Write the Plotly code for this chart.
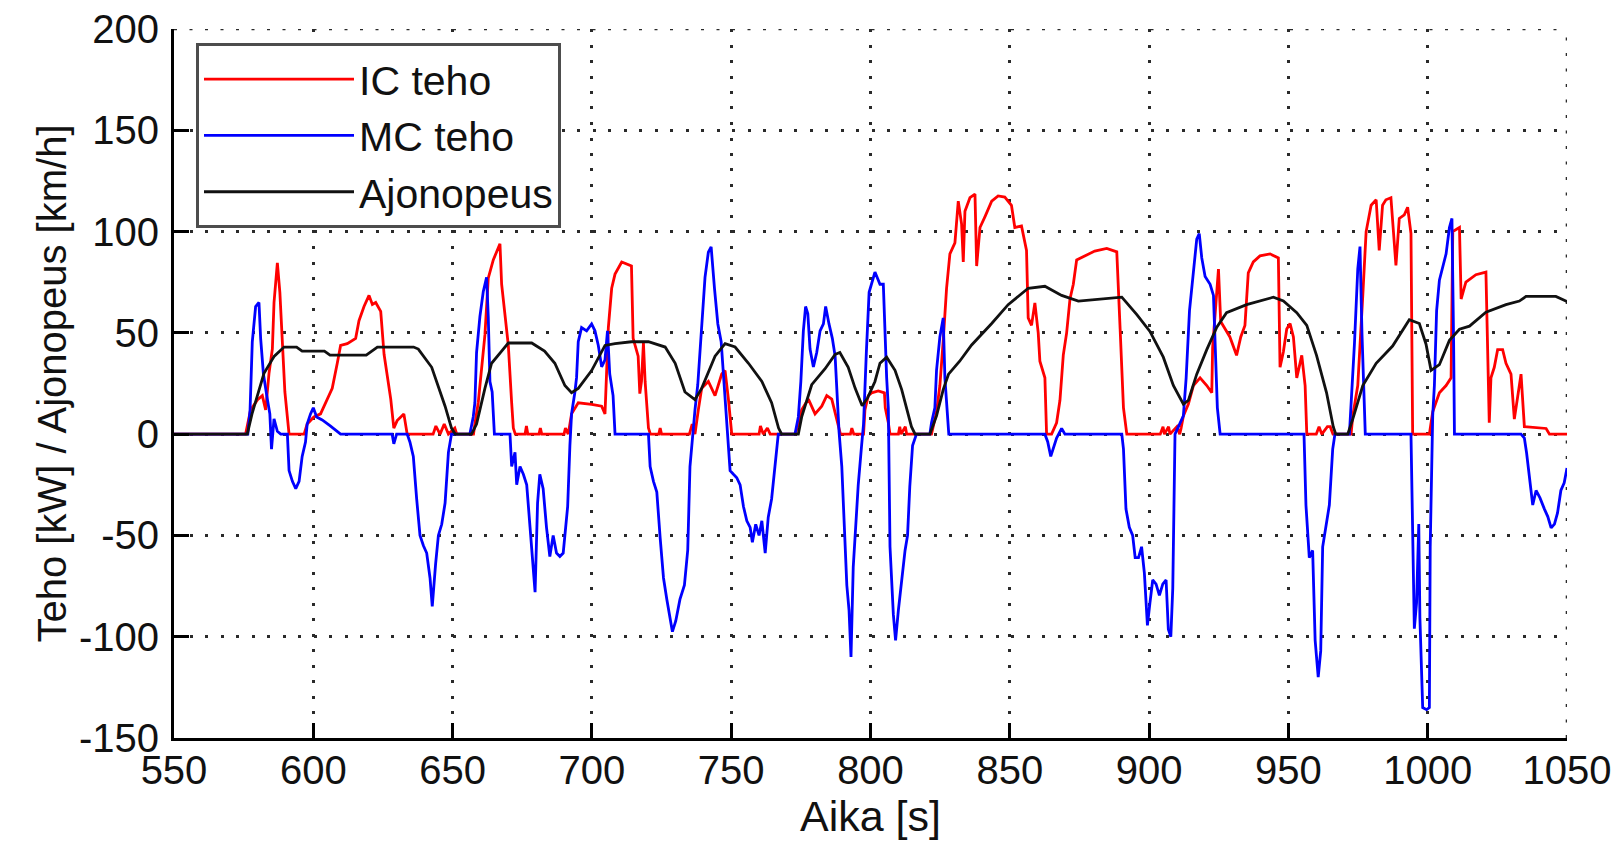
import plotly.graph_objects as go

# ---- data ----
t_speed = [550, 576.3, 578, 582.3, 586, 589.5, 594, 596, 604, 606, 619, 623, 636, 637.7, 642.5, 645, 647.3,
           649.6, 651, 656.8, 658.6, 661.6, 664, 667.6, 670, 678.4, 683, 686.7, 690.3, 692.7, 695.1, 699.9,
           704.7, 708.3, 714.2, 720.3, 726.3, 729.9, 733.4, 737, 739.4, 744.2, 747.8, 751.4, 756.2, 761,
           764.5, 767, 768.1, 774.1, 775.3, 778.9, 783.7, 787.3, 789, 792, 794.5, 797, 799, 801.6, 803.4,
           805.8, 808.8, 811.2, 813, 814.7, 816, 821.3, 823.7, 826.1, 828, 832, 836.3, 843.5, 849.4, 856.6,
           862.6, 868.6, 874.6, 884.8, 890.2, 895.6, 900.3, 905.1, 908.7, 912.3, 914.1, 917.1, 920.7, 924.3,
           927.8, 935, 939.8, 944.6, 948.2, 953, 956.6, 960.1, 963.7, 966.1, 967, 971.3, 973.1, 976.7, 981.5,
           987.4, 993.4, 997, 999.4, 1001.2, 1004.2, 1007.8, 1011.4, 1015, 1020.9, 1028.1, 1032.9, 1035.3,
           1046, 1050]
v_speed = [0, 0, 10, 30, 38.5, 43, 43, 41, 41, 39, 39, 43, 43, 42, 33, 22.6, 13.8,
           3, 0, 0, 5, 22.6, 35, 41, 45, 45, 41, 35, 24, 20.5, 22.6, 31.4,
           43.8, 44.7, 45.6, 45.6, 43, 35, 20.8, 17, 22.6, 38.5, 44.7, 43, 35, 26,
           15.5, 3, 0, 0, 8.5, 24.4, 32.3, 39.4, 40.3, 33, 22.6, 14, 18, 26, 35,
           38, 31.5, 22, 13, 3.7, 0, 0, 9, 22, 29.6, 36, 44, 54.6, 63.9, 72,
           73, 68.5, 65.7, 67, 67.6, 59, 50.7, 38, 24, 14.8, 16.7, 29.6, 41.7, 52.8,
           60, 63.9, 65.7, 67.6, 65.7, 60, 53.7, 38.9, 20.4, 3.7, 0, 0, 7.4, 24, 35,
           43.5, 56.5, 54.6, 44.4, 31.5, 34.3, 46.3, 51.8, 53.3, 60.2, 63.9, 65.7, 68,
           68, 65.5]

t_ic = [550, 575.7, 577.5, 580, 581.7, 582.9, 584.1, 585.3, 585.9, 587.1, 588, 588.9, 589.8, 591.3, 596.7,
        597.8, 600.2, 602.6, 604.4, 606.8, 608.6, 609.8, 612.2, 615.2, 616.4, 618.2, 620, 621.2, 622.4,
        624.2, 625.4, 626.6, 627.8, 628.9, 630.1, 632.5, 633.7, 643, 644, 645.5, 647, 648.5, 650.8, 651.5,
        657.5, 658, 659.2, 661.6, 662.8, 664.6, 666.2, 667, 667.6, 668.8, 670, 671.2, 671.8, 672.5, 676,
        676.5, 677, 681, 681.5, 682, 690, 690.5, 691.5, 692.7, 695.1, 699.9, 703.5, 704.7, 705.9, 707.1,
        708.3, 710.7, 714.2, 714.8, 716.6, 717.2, 717.8, 718.5, 719.1, 720.3, 721, 724, 724.5, 725, 735,
        736, 737, 738.2, 739.4, 741.8, 744.2, 746.6, 747.8, 749, 750.2, 760, 760.5, 761.5, 763, 764, 773,
        774.1, 775.3, 777.7, 780.1, 782.5, 784.3, 786.1, 787.3, 788.5, 789.2, 792.8, 793.3, 794, 797.5,
        798, 799.2, 800.4, 802.8, 805, 805.3, 806.4, 807, 810, 810.5, 811, 812.5, 813, 821.9, 823.7, 824.9,
        826.1, 827.3, 828.5, 830.3, 831.5, 832.7, 833.3, 833.9, 835.7, 837.5, 838.1, 839.3, 841.1, 843.5,
        845.8, 848.2, 850.6, 851.8, 854.2, 856, 856.6, 857.8, 859, 860.2, 860.8, 862.6, 863.2, 865, 866.8,
        868, 869.2, 870.4, 871.6, 872.8, 874, 877, 880.5, 884.8, 888.4, 889.6, 890.8, 892, 904, 905, 905.5,
        907, 907.5, 910, 911, 911.5, 912.3, 914.1, 915.9, 918.3, 920.7, 922.5, 922.8, 924.9, 925.7, 927.3,
        929, 931.4, 932.9, 934.4, 935.6, 937.4, 939.8, 943.4, 946.4, 947, 948.2, 949.4, 950.6, 951.8, 953,
        954.8, 956, 956.6, 960, 961, 962, 964, 965, 966, 972.5, 973.1, 974.9, 976.7, 977.9, 979.7, 981.5,
        982.6, 983.8, 985, 986.8, 988.6, 989.8, 991.6, 992.8, 994, 994.6, 1000.6, 1001.8, 1004.2, 1006.6,
        1008.4, 1009, 1011.4, 1012, 1013.7, 1017.3, 1020.9, 1022.1, 1022.7, 1023.9, 1025.1, 1026.9, 1028.1,
        1029.9, 1031.1, 1032.3, 1033.5, 1034.7, 1042.5, 1043.7, 1050]
p_ic = [0, 0, 12, 17, 19, 12, 30, 42, 65, 84.5, 70, 42, 20.8, 0, 0,
        5, 8.5, 10, 15.5, 22.6, 35, 43.8, 44.7, 47.3, 56, 63, 68.5, 64, 65,
        60.6, 39.4, 28.8, 17.3, 3, 6.7, 10, 0, 0, 4, 0, 5, 0, 3, 0,
        0, 5, 15.5, 49, 77, 86, 91.5, 94, 74, 58, 43.8, 15.5, 3, 0, 0,
        4, 0, 0, 3, 0, 0, 3, 0, 10, 15.5, 14.7, 13.8, 10, 52.6, 72,
        79, 85, 83, 47.3, 38.5, 20, 26, 45, 26, 3, 0, 0, 3, 0, 0,
        5, 0, 12, 22.6, 26, 19, 29.7, 31.4, 17.3, 0, 0, 4, 0, 3, 0, 0,
        5, 12, 17.3, 10, 13.8, 19, 17.3, 10, 3, 0, 0, 3, 0, 0,
        12, 19, 20.4, 21.3, 20.4, 13, 5.6, 0, 0, 3.7, 0, 3.7, 0, 0, 11, 24,
        46, 72, 89, 94.4, 115, 103.7, 85, 110, 116.7, 118.5, 83, 102, 107.4, 115,
        117.6, 117, 113, 102, 102.8, 90.7, 57.4, 53.7, 64.8, 50, 36, 27.8, 0, 0, 5.6,
        16.7, 39, 50, 66.7, 74, 86, 88, 90.4, 91.7, 90, 51.9, 13, 0, 0, 3.7, 0,
        3.7, 0, 3.7, 0, 3, 9, 14.8, 24, 27.8, 24, 20.4, 42.6, 81.5, 55.6, 51.9,
        48, 38.9, 48, 53.7, 79.6, 85, 88, 89, 87, 33, 40.7, 51.9, 54.6, 48, 27.8,
        38.9, 24, 0, 0, 3.7, 0, 3.7, 3.7, 0, 0, 9, 24, 68.5, 100, 113, 115.7,
        90.7, 113, 115.7, 116.7, 83.3, 106.5, 108.3, 112, 99, 0, 0, 11, 20.4, 24,
        27.8, 100, 102, 66.7, 75, 78.7, 80, 5.6, 27.8, 33, 41.7, 41.7, 35,
        29.6, 7.4, 18.5, 29.6, 3.7, 2.8, 0, 0]

t_mc = [550, 576.5, 577.3, 578.1, 579.3, 580.5, 581.1, 582.1, 583.3, 584.4, 585, 585.9, 587.1, 588.3, 590.7,
        591.3, 592.5, 593.7, 594.9, 596, 597.2, 597.8, 599, 600, 601.2, 603.2, 606.2, 609.8, 628.3, 628.9,
        629.9, 633.7, 634.7, 635.9, 637.1, 638.3, 639.5, 640.7, 641.9, 642.7, 643.9, 644.9, 646.1, 647.3,
        648.5, 649.6, 656.2, 657.4, 658, 658.6, 659.8, 661, 662.2, 662.8, 663.4, 664.2, 665, 670.6, 671.2,
        672.4, 673, 674.2, 675.4, 676.6, 677.8, 679, 679.6, 680.5, 681.3, 682.5, 683.7, 684.9, 686.1, 687.3,
        688.5, 689.7, 690.3, 691.3, 692.1, 692.7, 693.9, 694.5, 695.1, 696.3, 698.1, 699.9, 701.1, 702.3,
        703.5, 704.7, 705.6, 706.4, 707.6, 708.3, 720.3, 720.9, 722.1, 723.3, 724.5, 725.7, 726.9, 728.1,
        728.9, 730.1, 731.6, 733.2, 734.4, 735.2, 736.1, 737, 738, 739.2, 740.6, 741.8, 742.8, 744, 745.2,
        746.4, 747.2, 748, 748.8, 749.6, 750.8, 752, 753.2, 754.4, 755.6, 756.8, 757.6, 758.8, 760, 761,
        762.2, 763.3, 764.5, 765.7, 766.3, 766.9, 772.9, 774.1, 775, 775.9, 776.7, 777.5, 778.3, 779.5,
        780.7, 781.9, 783.1, 783.9, 785.1, 786.3, 787.3, 788.1, 788.7, 789.7, 790.6, 791.5, 792.3, 793,
        793.8, 794.7, 795.6, 796.8, 797.5, 798.5, 799.5, 801.6, 803.4, 804.6, 805.2, 805.8, 806.4, 807,
        808.2, 809, 810, 811.2, 812.4, 813.3, 814.1, 815.1, 816, 816.5, 821.3, 821.9, 823.1, 823.7, 824.9,
        826.1, 826.7, 827.7, 828.1, 862.6, 863.6, 864.7, 865.6, 866.8, 868.6, 869.8, 890.2, 890.8, 891.7,
        892.9, 894.1, 895, 896.2, 897.3, 898.3, 899.4, 900.3, 901.3, 902.5, 903.7, 904.9, 906.1, 906.9,
        907.8, 908.5, 909.3, 912.3, 913.3, 914.5, 915.9, 917.1, 918, 918.9, 920.1, 921.9, 923.1, 923.7,
        924.5, 925.5, 955.6, 956.3, 957.5, 958.7, 959.6, 960.7, 961.6, 962.3, 963.5, 964.7, 965.9, 966.7,
        971.9, 972.5, 973.7, 974.9, 975.7, 976.4, 977.3, 977.6, 994, 994.6, 995.2, 996, 996.8, 997.2, 998.2,
        999.6, 1000.6, 1000.9, 1001.8, 1002.4, 1003.2, 1004.2, 1005.4, 1006.6, 1007.8, 1008.7, 1009.3,
        1009.6, 1033.5, 1034.7, 1035.5, 1036.7, 1037.7, 1038.9, 1040.3, 1041.9, 1043.1, 1044.3, 1045.5,
        1046.6, 1047.8, 1049, 1049.9, 1050]
p_mc = [0, 0, 12, 45.6, 63, 65, 47.3, 29.7, 19, 10, -7.4, 7.6, 1.4, 0, 0,
        -18, -23.3, -26.9, -23.3, -11, -3.9, 5, 10, 13, 8.5, 7, 4, 0, 0, -4.8,
        0, 0, -4, -11, -32, -50, -55, -58.7, -71, -85, -64, -50, -44.5, -34,
        -9, 0, 0, 8.5, 15.5, 40.3, 58, 70.3, 77.4, 58, 26, 20.8, 0, 0, -16,
        -9, -25, -16, -19.8, -25, -46, -67.5, -78, -34, -19.8, -26.9, -46, -60.4, -50, -58.7,
        -60.4, -58.7, -50, -35.7, -5.7, 10, 20.8, 28, 45.6, 52.6, 51, 54.4, 51, 43.8,
        33.2, 36.7, 51, 29.7, 19, 0, 0, -16, -23.3, -28.6, -51.2, -71, -81.6, -92.2,
        -97.5, -92.2, -81.6, -74.6, -57.2, -16, 0, 12, 24.4, 51, 77.4, 89.8, 92.4, 72, 54.4,
        45.6, 29.7, 15.5, 3, -18, -19.8, -21.5, -25, -35.7, -42.8, -46, -53.4, -44.5, -50, -42.8,
        -58.7, -41, -32, -14.5, -5.7, 0, 0, 8.5, 26, 51, 63, 59.4, 42, 33.2,
        40.3, 51, 54.4, 63, 54.4, 47.3, 38.5, 19, 1.4, -16, -42.8, -74.6, -87, -110,
        -65.7, -44.5, -25, -5.7, 5, 40, 70, 80, 74, 74, 44.4, 27.8, 13, -55.6,
        -89, -101.8, -87, -70.4, -57.4, -50, -26, -5.6, -1.9, 0, 0, 5.6, 13, 31.5, 48,
        57.4, 27.8, 9.3, 0, 0, -3.7, -11, -7.4, -1.9, 2.8, 0, 0, -7.4, -37,
        -46, -50, -61, -61, -55.6, -68.5, -94.4, -83.3, -72, -74, -79.6, -74, -72, -96.3,
        -100, -76, 0, 9, 27.8, 61, 79.6, 96.3, 99, 87, 77.8, 74, 68.5, 46,
        13, 0, 0, -35, -61, -57.4, -101.8, -120, -107, -55.6, -44.4, -35, -7.4, 0,
        0, 14.8, 44.4, 81.5, 92.6, 50, 9.3, 0, 0, -50, -96, -83.3, -44.4, -90.7, -135,
        -136, -135, -55.6, 9.3, 24, 61, 76, 83.3, 89, 102, 106.5, 46,
        0, 0, -1.9, -9.3, -24, -35, -27.8, -31.5, -37, -40.7, -46.3, -44.4,
        -38.9, -27.8, -24, -16.7, -16.7]

x_ticks = [550, 600, 650, 700, 750, 800, 850, 900, 950, 1000, 1050]
y_ticks = [-150, -100, -50, 0, 50, 100, 150, 200]

FONT = "Liberation Sans"
GRID_COLOR = "#2a2a2a"
GRID_DASH = "3px,12.5px"
GRID_W = 2.6

fig = go.Figure()
fig.add_trace(go.Scatter(x=t_ic, y=p_ic, mode="lines", name="IC teho",
                         line=dict(color="#ff0000", width=2.8)))
fig.add_trace(go.Scatter(x=t_mc, y=p_mc, mode="lines", name="MC teho",
                         line=dict(color="#0000ff", width=2.8)))
fig.add_trace(go.Scatter(x=t_speed, y=v_speed, mode="lines", name="Ajonopeus",
                         line=dict(color="#111111", width=2.8)))

axis_common = dict(
    showline=True, linecolor="#000000", linewidth=3,
    ticks="inside", ticklen=15, tickwidth=3, tickcolor="#000000",
    showgrid=True, gridcolor=GRID_COLOR, gridwidth=GRID_W, griddash=GRID_DASH,
    zeroline=False, mirror=False,
    tickfont=dict(family=FONT, size=40, color="#111111"),
)

fig.update_xaxes(range=[550, 1050], tickvals=x_ticks, ticktext=[str(v) for v in x_ticks],
                 title=dict(text="Aika [s]", font=dict(family=FONT, size=43, color="#111111"), standoff=8),
                 ticklabelstandoff=-5, **axis_common)
fig.update_yaxes(range=[-150, 200], tickvals=y_ticks, ticktext=[str(v) for v in y_ticks],
                 title=dict(text="Teho [kW] / Ajonopeus [km/h]", font=dict(family=FONT, size=40, color="#111111"), standoff=0),
                 ticklabelstandoff=4, **axis_common)

# grid lines at the top (y=200) and right (x=1050) edges of the axes
fig.add_shape(type="line", xref="x", yref="y", x0=550, x1=1050, y0=200, y1=200, layer="below",
              line=dict(color=GRID_COLOR, width=GRID_W, dash=GRID_DASH))
fig.add_shape(type="line", xref="x", yref="y", x0=1050, x1=1050, y0=-150, y1=200, layer="below",
              line=dict(color=GRID_COLOR, width=GRID_W, dash=GRID_DASH))

fig.update_layout(
    width=1621, height=844,
    margin=dict(l=174, r=54, t=29, b=106, autoexpand=False),
    paper_bgcolor="white", plot_bgcolor="white",
    showlegend=True,
    legend=dict(x=(196 - 174) / 1393, y=(738 - 43) / 709, xanchor="left", yanchor="top",
                bgcolor="white", bordercolor="#4d4d4d", borderwidth=3,
                font=dict(family=FONT, size=41, color="#111111"),
                itemwidth=150, tracegroupgap=0),
)

fig.write_html("out.html")
